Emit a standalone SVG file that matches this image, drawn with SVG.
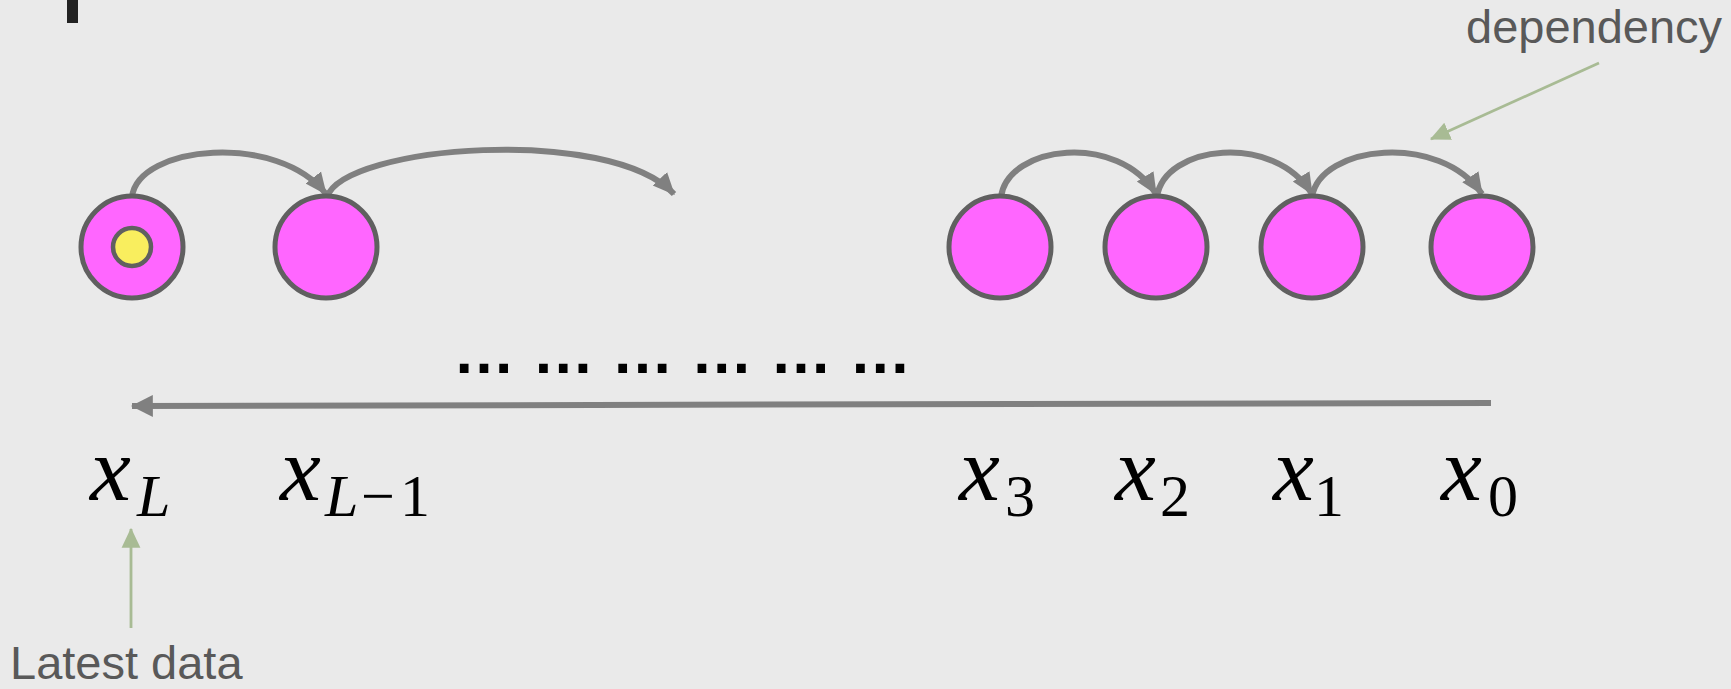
<svg xmlns="http://www.w3.org/2000/svg" width="1731" height="689" viewBox="0 0 1731 689">
<style>
.node{fill:#ff66ff;stroke:#606060;stroke-width:5}
.core{fill:#f9ee5e;stroke:#606060;stroke-width:4.5}
.dep{fill:none;stroke:#808080;stroke-width:6}
.ann{fill:none;stroke:#a8bb94;stroke-width:2.8}
.v{font-family:"Liberation Serif",serif;font-style:italic;font-size:92px;fill:#000}
.s{font-family:"Liberation Serif",serif;font-size:60px;fill:#000}
.si{font-family:"Liberation Serif",serif;font-style:italic;font-size:60px;fill:#000}
.note{font-family:"Liberation Sans",Arial,sans-serif;font-size:47px;fill:#595959}
.dots{font-family:"Liberation Sans",Arial,sans-serif;font-weight:bold;font-size:62px;fill:#000}
</style>
<defs>
<marker id="ah" markerUnits="userSpaceOnUse" markerWidth="22" markerHeight="22" viewBox="0 0 18 16" refX="17" refY="8" orient="auto">
<path d="M0,0 L18,8 L0,16 Z" fill="#808080"/>
</marker>
<marker id="ahl" markerUnits="userSpaceOnUse" markerWidth="22" markerHeight="22" viewBox="0 0 19 19" refX="18" refY="9.5" orient="auto">
<path d="M0,0 L19,9.5 L0,19 Z" fill="#808080"/>
</marker>
<marker id="ahg" markerUnits="userSpaceOnUse" markerWidth="20" markerHeight="20" viewBox="0 0 17 16" refX="16" refY="8" orient="auto">
<path d="M0,0 L17,8 L0,16 Z" fill="#a8bb94"/>
</marker>
</defs>
<rect x="0" y="0" width="1731" height="689" fill="#eaeaea"/>
<rect x="67" y="0" width="11" height="23" fill="#222222"/>

<g id="connectors">
<path class="dep" d="M132,197 C138,145 278,132 326,194" marker-end="url(#ah)"/>
<path class="dep" d="M327,197 C345,145 610,125 674,194" marker-end="url(#ah)"/>
<path class="dep" d="M1001,197 C1008,145 1118,132 1156,194" marker-end="url(#ah)"/>
<path class="dep" d="M1157,197 C1164,145 1274,132 1312,194" marker-end="url(#ah)"/>
<path class="dep" d="M1312,197 C1320,145 1440,132 1482,194" marker-end="url(#ah)"/>
<path class="dep" d="M1491,403 L132,406" marker-end="url(#ahl)"/>
<path class="ann" d="M1599,63 L1431,139" marker-end="url(#ahg)"/>
<path class="ann" d="M131,628 L131,529" marker-end="url(#ahg)"/>
</g>

<g id="node-xL">
<circle class="node" cx="132" cy="247" r="51"/>
<circle class="core" cx="132" cy="247" r="19"/>
<text><tspan class="v" x="90" y="500">x</tspan><tspan class="si" x="137" y="516">L</tspan></text>
</g>
<g id="node-xL1">
<circle class="node" cx="326" cy="247" r="51"/>
<text><tspan class="v" x="280" y="500">x</tspan><tspan class="si" x="325" y="516">L</tspan><tspan class="s" x="361" y="516">−</tspan><tspan class="s" x="400" y="516">1</tspan></text>
</g>
<g id="node-x3">
<circle class="node" cx="1000" cy="247" r="51"/>
<text><tspan class="v" x="959" y="500">x</tspan><tspan class="s" x="1005" y="516">3</tspan></text>
</g>
<g id="node-x2">
<circle class="node" cx="1156" cy="247" r="51"/>
<text><tspan class="v" x="1115" y="500">x</tspan><tspan class="s" x="1160" y="516">2</tspan></text>
</g>
<g id="node-x1">
<circle class="node" cx="1312" cy="247" r="51"/>
<text><tspan class="v" x="1273" y="500">x</tspan><tspan class="s" x="1314" y="516">1</tspan></text>
</g>
<g id="node-x0">
<circle class="node" cx="1482" cy="247" r="51"/>
<text><tspan class="v" x="1441" y="500">x</tspan><tspan class="s" x="1488" y="516">0</tspan></text>
</g>

<text class="dots" x="453" y="373">… … … … … …</text>
<text class="note" x="1466" y="43">dependency</text>
<text class="note" x="10" y="679">Latest data</text>
</svg>
